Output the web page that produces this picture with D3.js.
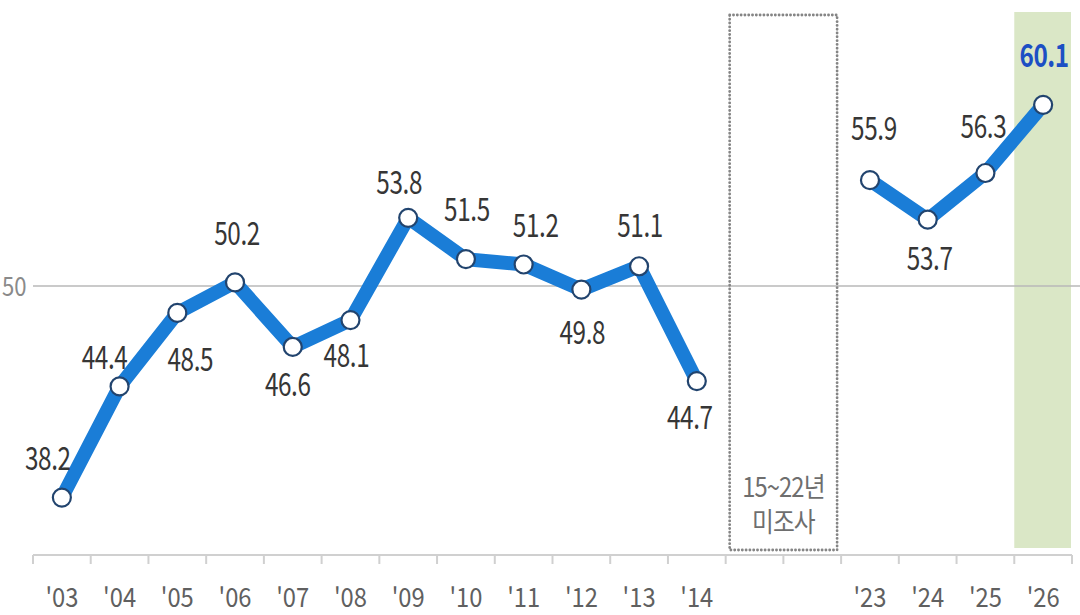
<!DOCTYPE html>
<html>
<head>
<meta charset="utf-8">
<script src="https://cdn.jsdelivr.net/npm/d3@7"></script>
<style>
  body { margin: 0; background: #fff; }
  svg { display: block; font-family: "Noto Sans CJK KR", "Noto Sans", sans-serif; }
</style>
</head>
<body>
<script>
// slots along the x axis; the two gap slots hold the 15~22 no-survey box
var years = ["'03", "'04", "'05", "'06", "'07", "'08", "'09", "'10", "'11", "'12", "'13", "'14",
             "gap1", "gap2", "'23", "'24", "'25", "'26"];
var values = [38.2, 44.4, 48.5, 50.2, 46.6, 48.1, 53.8, 51.5, 51.2, 49.8, 51.1, 44.7,
              null, null, 55.9, 53.7, 56.3, 60.1];
var refValue = 50;
var gapText = ['15~22년', '미조사'];

// label nudges [dx, dy] from each point (layout only)
var labelNudge = [[-14, -28], [-15, -17], [13, 58], [2, -37], [-5, 49], [-4, 47],
                  [-9, -24], [1, -38], [12, -27], [1, 54], [1, -29], [-7, 48],
                  null, null, [4, -40], [2, 50], [-2, -35], [1, -38]];

var width = 1080, height = 615;
var svg = d3.select('body').append('svg')
    .attr('width', width)
    .attr('height', height);

var x = d3.scaleBand().domain(years).range([33, 1072]).padding(0);
var y = d3.scaleLinear().domain([35, 65]).range([555, 17]);
var cx = function (i) { return x(years[i]) + x.bandwidth() / 2; };

// narrow text: the original uses a condensed face
function narrow(sel, sx) {
    return sel.attr('transform', function () {
        var t = d3.select(this);
        return 'translate(' + t.attr('data-x') + ',' + t.attr('data-y') + ') scale(' + sx + ',1)';
    });
}

// highlight band for the latest year
svg.append('rect')
    .attr('x', x("'26"))
    .attr('y', 12)
    .attr('width', x.bandwidth() - 1)
    .attr('height', y(35) - 7 - 12)
    .attr('fill', '#dae7c6');

// reference line at 50
svg.append('line')
    .attr('x1', 33).attr('x2', width)
    .attr('y1', y(refValue)).attr('y2', y(refValue))
    .attr('stroke', '#b8b8b8').attr('stroke-width', 1.5);
svg.append('text')
    .attr('data-x', 2).attr('data-y', y(refValue) + 10)
    .attr('font-size', 26).attr('fill', '#8a8a8a')
    .text(refValue)
    .call(narrow, 0.85);

// dotted box over the missing years
var gx0 = x('gap1'), gx1 = x('gap2') + x.bandwidth();
svg.append('rect')
    .attr('x', gx0 + 4).attr('y', 15)
    .attr('width', gx1 - gx0 - 8).attr('height', y(35) - 5 - 15)
    .attr('fill', 'none')
    .attr('stroke', '#858585').attr('stroke-width', 2.8)
    .attr('stroke-dasharray', '0.1 3.7').attr('stroke-linecap', 'round');
svg.selectAll('.gaptext').data(gapText).enter().append('text')
    .attr('data-x', (gx0 + gx1) / 2)
    .attr('data-y', function (d, i) { return 497 + i * 35; })
    .attr('text-anchor', 'middle')
    .attr('font-size', 27).attr('fill', '#6e6e6e')
    .attr('letter-spacing', -1)
    .text(function (d) { return d; })
    .call(narrow, 0.88);

// x axis: line, ticks at band edges, labels in band centres
var axisY = y(35);
svg.append('line')
    .attr('x1', x.range()[0]).attr('x2', x.range()[1])
    .attr('y1', axisY).attr('y2', axisY)
    .attr('stroke', '#d0d0d0').attr('stroke-width', 2);
var edges = years.map(function (d) { return x(d); }).concat([x.range()[1]]);
svg.selectAll('.tick').data(edges).enter().append('line')
    .attr('x1', function (d) { return d; }).attr('x2', function (d) { return d; })
    .attr('y1', axisY).attr('y2', axisY + 9)
    .attr('stroke', '#d0d0d0').attr('stroke-width', 2);
svg.selectAll('.xlab').data(years.filter(function (d) { return d.indexOf('gap') !== 0; }))
    .enter().append('text')
    .attr('data-x', function (d) { return x(d) + x.bandwidth() / 2; })
    .attr('data-y', 607)
    .attr('text-anchor', 'middle')
    .attr('font-size', 27).attr('fill', '#606060')
    .text(function (d) { return d; })
    .call(narrow, 0.88);

// the line, broken over the missing years
var line = d3.line()
    .defined(function (d) { return d !== null; })
    .x(function (d, i) { return cx(i); })
    .y(function (d) { return y(d); });
svg.append('path')
    .datum(values)
    .attr('d', line)
    .attr('fill', 'none')
    .attr('stroke', '#1a7dd7')
    .attr('stroke-width', 14)
    .attr('stroke-linejoin', 'miter');

var pts = values.map(function (v, i) { return { v: v, i: i }; })
    .filter(function (d) { return d.v !== null; });

svg.selectAll('.dot').data(pts).enter().append('circle')
    .attr('cx', function (d) { return cx(d.i); })
    .attr('cy', function (d) { return y(d.v); })
    .attr('r', 9)
    .attr('fill', '#fff')
    .attr('stroke', '#22446e')
    .attr('stroke-width', 2.2);

var last = years.length - 1;
svg.selectAll('.vlab').data(pts).enter().append('text')
    .attr('data-x', function (d) { return cx(d.i) + labelNudge[d.i][0]; })
    .attr('data-y', function (d) { return y(d.v) + labelNudge[d.i][1]; })
    .attr('text-anchor', 'middle')
    .attr('font-size', 32)
    .attr('font-weight', function (d) { return d.i === last ? 'bold' : 'normal'; })
    .attr('letter-spacing', -0.5)
    .attr('fill', function (d) { return d.i === last ? '#1c4fc4' : '#363636'; })
    .text(function (d) { return d.v.toFixed(1); })
    .call(narrow, 0.76);
</script>
</body>
</html>
